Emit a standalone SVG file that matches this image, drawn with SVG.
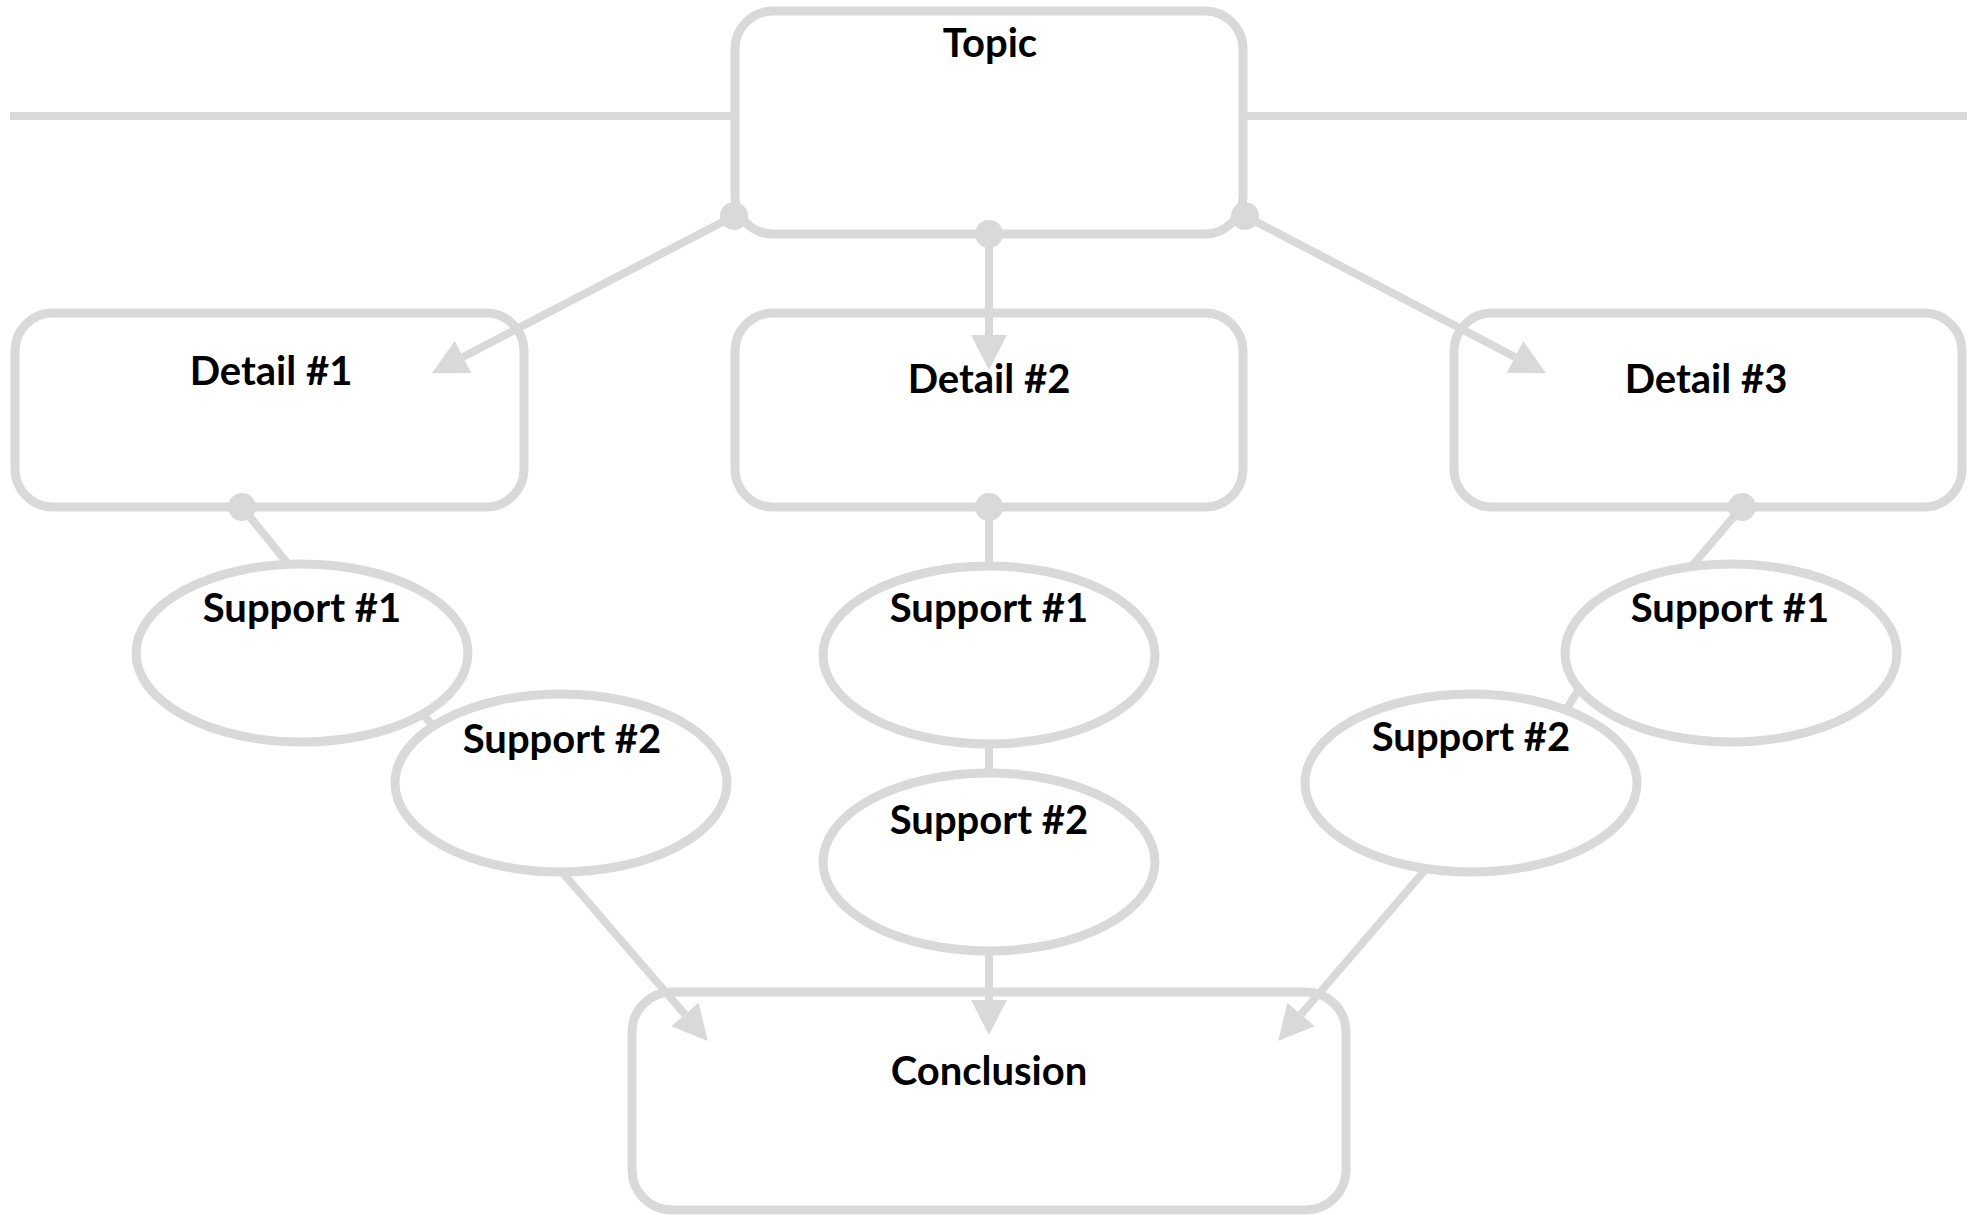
<svg xmlns="http://www.w3.org/2000/svg" width="1975" height="1215" viewBox="0 0 1975 1215">
<style>
.box{fill:#ffffff;stroke:#d9d9d9;stroke-width:9}
.ln{fill:none;stroke:#d9d9d9;stroke-width:8}
.t{font-family:Lato,"Noto Sans","Liberation Sans",sans-serif;font-weight:bold;font-size:40px;fill:#000000;text-anchor:middle}
</style>
<defs>
<marker id="arr" markerUnits="userSpaceOnUse" markerWidth="36" markerHeight="36" viewBox="0 0 35 36" refX="0" refY="18" orient="auto">
<path d="M0,0 L35,18 L0,36 z" fill="#d9d9d9"/>
</marker>
<marker id="dot" markerUnits="userSpaceOnUse" markerWidth="30" markerHeight="30" viewBox="0 0 30 30" refX="15" refY="15" orient="auto">
<circle cx="15" cy="15" r="14" fill="#d9d9d9"/>
</marker>
</defs>
<rect width="1975" height="1215" fill="#ffffff"/>
<g id="rule">
<line class="ln" x1="10" y1="116" x2="736" y2="116"/>
<line class="ln" x1="1243" y1="116" x2="1967" y2="116"/>
</g>
<g id="topic"><rect class="box" x="735" y="11" width="508" height="223" rx="38"/><text class="t" x="990" y="57">Topic</text></g>
<g id="detail1"><rect class="box" x="15" y="313" width="509" height="194" rx="38"/><text class="t" x="271" y="385">Detail #1</text></g>
<g id="detail2"><rect class="box" x="735" y="313" width="508" height="194" rx="38"/><text class="t" x="989" y="393">Detail #2</text></g>
<g id="detail3"><rect class="box" x="1454" y="313" width="508" height="194" rx="38"/><text class="t" x="1706" y="393">Detail #3</text></g>
<g id="l-support1"><ellipse class="box" cx="302" cy="653" rx="166" ry="89"/><text class="t" x="302" y="622">Support #1</text></g>
<g id="l-support2"><ellipse class="box" cx="561" cy="783" rx="166" ry="89"/><text class="t" x="562" y="753">Support #2</text></g>
<g id="m-support1"><ellipse class="box" cx="989" cy="655" rx="166" ry="89"/><text class="t" x="989" y="622">Support #1</text></g>
<g id="m-support2"><ellipse class="box" cx="989" cy="862" rx="166" ry="89"/><text class="t" x="989" y="834">Support #2</text></g>
<g id="r-support1"><ellipse class="box" cx="1731" cy="653" rx="166" ry="89"/><text class="t" x="1730" y="622">Support #1</text></g>
<g id="r-support2"><ellipse class="box" cx="1471" cy="783" rx="166" ry="89"/><text class="t" x="1471" y="751">Support #2</text></g>
<g id="conclusion"><rect class="box" x="632" y="992" width="714" height="218" rx="40"/><text class="t" x="989" y="1085">Conclusion</text></g>
<g id="connectors">
<line class="ln" x1="734" y1="216" x2="463" y2="357" marker-start="url(#dot)" marker-end="url(#arr)"/>
<line class="ln" x1="989" y1="234" x2="989" y2="335" marker-start="url(#dot)" marker-end="url(#arr)"/>
<line class="ln" x1="1245" y1="216" x2="1515" y2="357" marker-start="url(#dot)" marker-end="url(#arr)"/>
<line class="ln" x1="242" y1="507" x2="288" y2="564" marker-start="url(#dot)"/>
<line class="ln" x1="989" y1="507" x2="989" y2="566" marker-start="url(#dot)"/>
<line class="ln" x1="1742" y1="507" x2="1692" y2="566" marker-start="url(#dot)"/>
<line class="ln" x1="423" y1="714" x2="433" y2="726"/>
<line class="ln" x1="989" y1="744" x2="989" y2="773"/>
<line class="ln" x1="1579" y1="689" x2="1566" y2="710"/>
<line class="ln" x1="562" y1="872" x2="685" y2="1014.5" marker-end="url(#arr)"/>
<line class="ln" x1="989" y1="951" x2="989" y2="1000" marker-end="url(#arr)"/>
<line class="ln" x1="1426" y1="869" x2="1301" y2="1014.5" marker-end="url(#arr)"/>
</g>
</svg>
